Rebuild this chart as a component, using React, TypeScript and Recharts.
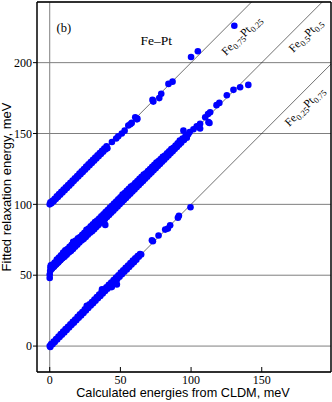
import { ScatterChart, Scatter, XAxis, YAxis, CartesianGrid, ReferenceLine, ReferenceDot } from 'recharts';

const xTicks = [0, 50, 100, 150];
const yTicks = [0, 50, 100, 150, 200];
const xDomain: [number, number] = [-9, 199];
const yDomain: [number, number] = [-18.3, 242.8];

// y = x + offset guide lines
const guideOffsets = [0, 50, 100];

// Fe0.25Pt0.75 (bottom band)
const fe25pt75 = [
  [0, 0], [0.4, -0.6], [1, 1.5], [2, 1.2], [2.8, 3.2], [3.6, 2.8], [4.5, 5], [5.3, 4.6], [6.2, 6.8], [7, 6.4],
  [7.8, 8.5], [8.6, 8], [9.5, 10.2], [10.3, 9.6], [11.2, 12], [12, 11.4], [12.9, 13.6], [13.7, 13.1], [14.6, 15.4],
  [15.4, 14.8], [16.3, 17.2], [17.1, 16.5], [18, 18.8], [18.8, 18.2], [19.7, 20.6], [20.5, 19.9], [21.4, 22.4],
  [22.2, 21.6], [23.1, 24], [23.9, 23.4], [24.8, 25.9], [25.6, 25.1], [26.2, 28.5], [26.5, 27], [27.3, 26.9],
  [28.2, 29.4], [29, 28.6], [29.9, 31.1], [30.7, 30.2], [31.6, 32.8], [32.4, 32], [33.3, 34.6], [34.1, 33.7],
  [35, 36.3], [35.8, 35.4], [36.7, 38.2], [37, 40], [37.5, 37.1], [38.4, 39.8], [39.2, 38.8], [40.1, 41.5],
  [40.9, 40.5], [41.8, 43.3], [42.6, 42.1], [43.9, 41.6], [43.5, 44.9], [44.3, 43.8], [45.2, 46.6], [46, 45.6],
  [46.9, 48.3], [47.5, 43.5], [47.7, 47.2], [48.6, 50], [49.4, 49], [50.3, 51.8], [51.1, 50.7], [52, 53.4],
  [52.8, 52.4], [53.7, 55.2], [54.5, 54], [55.4, 56.8], [56.2, 55.8], [57.1, 58.6], [57.9, 57.5], [58.8, 60.3],
  [59.6, 59.2], [60.5, 62], [61.3, 61], [62.2, 63.6], [63, 63], [63.9, 65], [64.7, 64.6],
  [72.3, 74.6], [73, 74], [77, 78], [81.7, 82.2], [83.6, 82.9], [85.2, 85.2], [90.7, 90.6], [91.4, 92], [99.6, 98],
];

// Fe0.5Pt0.5 (middle band)
const fe50pt50 = [
  [0, 48], [0, 50.5], [0.3, 53], [0.5, 55.5], [0.8, 57], [1.5, 54.5], [2, 57.5], [3, 56], [3.5, 59], [4.5, 57.5],
  [5, 61], [6, 59], [6.5, 62.5], [7.5, 60.5], [8, 64], [9, 62], [9.5, 66], [10.5, 63], [11, 67.5], [12, 64.5],
  [12.5, 68.5], [13.5, 66], [14, 70], [15, 67], [15.5, 71.5], [16.5, 68.5], [16.6, 73.5], [17, 73], [18, 70],
  [18.5, 74.5], [19.5, 71.5], [20, 76], [21, 73], [21.5, 77], [22.5, 74.5], [23, 78.5], [24, 75.5], [24.5, 80],
  [25.5, 77], [26, 82], [27, 78.5], [27.5, 83], [28.5, 80], [29, 84.5], [30, 81], [30.5, 86], [31.5, 82.5],
  [32, 87.5], [33, 84], [33.5, 88.5], [34.5, 85.5], [35, 90], [36, 87], [36.5, 91.5], [37.5, 88], [38, 93],
  [39, 89.5], [39.3, 85.5], [39.5, 94.5], [40.5, 91], [41, 96], [42, 92.5], [42.5, 97.5], [43.5, 94], [44, 99],
  [45, 95.5], [45.5, 100.5], [46.5, 97], [47, 102], [48, 98.5], [48.5, 103.5], [49.5, 100], [50, 105],
  [51, 101.5], [51.5, 107], [52.5, 103], [53, 108], [54, 104.5], [54.5, 109.5], [55.5, 106], [56, 111],
  [57, 107.5], [57.5, 112.5], [58.5, 109], [59, 113.5], [60, 110.5], [60.5, 115], [61.5, 112], [62, 116.5],
  [63, 113.5], [63.5, 118], [64.5, 115], [65, 119.5], [66, 116.5], [66.5, 121], [67.5, 118], [68, 122],
  [69, 119.5], [69.5, 123.5], [70.5, 121], [71, 125], [72, 122.5], [72.5, 126.5], [73.5, 124], [74, 128],
  [75, 125.5], [75.5, 129.5], [76.5, 127], [77, 130.5], [78, 128.5], [78.5, 132], [79.5, 130], [80, 133.5],
  [81, 131.5], [81.5, 134.5], [82.5, 133], [83, 136], [84, 134.5], [84.5, 137.5], [85.5, 136], [86, 139],
  [87, 137.5], [87.5, 140], [88.5, 139], [89, 141.5], [90, 140.5], [90.5, 143], [91.5, 142], [92, 145],
  [93, 143.5], [94, 146.5], [94.6, 152], [95, 145.5], [96, 148], [97, 147], [98, 149.5], [99, 151],
  [101.7, 153], [104, 155], [106.4, 156.8], [106.4, 153.5], [110, 161.5], [112, 163.8], [112.3, 158],
  [113, 157.4], [113.5, 165], [118, 170], [120, 171.6], [125.3, 177], [130, 180.8], [134.7, 182.6], [140.5, 184.3],
];

// Fe0.75Pt0.25 (top band)
const fe75pt25 = [
  [0, 100], [0.5, 101.5], [1.2, 100.8], [2, 102.5], [2.8, 102.2], [3.5, 104], [4.3, 103.8], [5, 105.6],
  [5.8, 105.2], [6.6, 107.2], [7.4, 106.8], [8.2, 108.8], [9, 108.4], [9.8, 110.4], [10.6, 110], [11.4, 112],
  [12.2, 111.6], [13, 113.6], [13.8, 113.2], [14.6, 115.2], [15.4, 114.8], [16.2, 116.8], [17, 116.4],
  [17.8, 118.4], [18.6, 118], [19.4, 120], [20.2, 119.6], [21, 121.8], [21.8, 121.2], [22.6, 123.4],
  [23.4, 122.8], [24.2, 125], [25, 124.4], [25.8, 126.6], [26.6, 126], [27.4, 128.2], [28.2, 127.6],
  [29, 129.8], [29.8, 129.2], [30.6, 131.4], [31.4, 130.8], [32.2, 133], [33, 132.4], [33.8, 134.6], [34.6, 134],
  [35.4, 136.2], [36.2, 135.6], [37, 137.8], [37.8, 137.2], [38.6, 139.4], [39.4, 138.8], [40.2, 141],
  [40.8, 139.6], [44, 144], [47, 146.5], [48.5, 148], [51, 150], [53, 152], [55.6, 155.7], [57, 156.5],
  [58, 157.5], [60.5, 161.5], [61.7, 160], [62, 160.5], [72.7, 173.7], [73.3, 172.5], [77.5, 175], [78.9, 178],
  [84, 185], [86.9, 186.6], [100, 204], [104.8, 208], [130.6, 226],
];

const toPoints = (arr: number[][]) => arr.map(([x, y]) => ({ x, y }));

const alloyLabels = [
  { a: '0.75', b: '0.25', x: 135.5, y: 219.3 },
  { a: '0.5', b: '0.5', x: 180.9, y: 219.3 },
  { a: '0.25', b: '0.75', x: 180.2, y: 169.2 },
];

const serif = '"Liberation Serif", "Times New Roman", serif';
const sans = '"Liberation Sans", Arial, sans-serif';
const blue = '#0000ff';

const Dot = (p: any) => <circle cx={p.cx} cy={p.cy} r={3.3} fill={blue} />;

const AlloyText = ({ a, b }: { a: string; b: string }) => (p: any) => (
  <text
    x={p.cx}
    y={p.cy}
    transform={`rotate(-45 ${p.cx} ${p.cy})`}
    textAnchor="middle"
    dy="0.35em"
    fontFamily={serif}
    fontSize={11.5}
    fill="#000"
  >
    Fe<tspan fontSize={8.5} dy={3}>{a}</tspan>
    <tspan dy={-3}>Pt</tspan>
    <tspan fontSize={8.5} dy={3}>{b}</tspan>
  </text>
);

const PlainText = (txt: string, size: number) => (p: any) => (
  <text x={p.cx} y={p.cy} textAnchor="middle" dy="0.35em" fontFamily={serif} fontSize={size} fill="#000">
    {txt}
  </text>
);

export default function App() {
  return (
    <div style={{ position: 'absolute', left: 0, top: 0, background: '#fff' }}>
      <ScatterChart width={332} height={402} margin={{ top: 2, right: 1, bottom: 0, left: 0 }}>
        <CartesianGrid horizontal vertical={false} stroke="#7f7f7f" strokeWidth={1} />
        <XAxis
          type="number"
          dataKey="x"
          domain={xDomain}
          allowDataOverflow
          ticks={xTicks}
          height={30}
          tickSize={-5}
          tickMargin={8}
          axisLine={{ stroke: '#000', strokeWidth: 1.5 }}
          tickLine={{ stroke: '#000' }}
          tick={{ fontFamily: serif, fontSize: 12, fill: '#000' }}
          label={{
            content: () => (
              <text x={183} y={397} textAnchor="middle" fontFamily={sans} fontSize={12.7} fill="#000">
                Calculated energies from CLDM, meV
              </text>
            ),
          }}
        />
        <YAxis
          type="number"
          dataKey="y"
          domain={yDomain}
          allowDataOverflow
          ticks={yTicks}
          width={37}
          tickSize={4}
          tickMargin={1}
          axisLine={{ stroke: '#000', strokeWidth: 1.5 }}
          tickLine={{ stroke: '#000' }}
          tick={{ fontFamily: serif, fontSize: 12, fill: '#000' }}
          label={{
            content: () => (
              <text
                x={11.3}
                y={187}
                transform="rotate(-90 11.3 187)"
                textAnchor="middle"
                fontFamily={sans}
                fontSize={13}
                fill="#000"
              >
                Fitted relaxation energy, meV
              </text>
            ),
          }}
        />
        <ReferenceLine x={0} stroke="#7f7f7f" strokeWidth={1} />
        <Scatter data={toPoints(fe25pt75)} shape={Dot} isAnimationActive={false} />
        <Scatter data={toPoints(fe50pt50)} shape={Dot} isAnimationActive={false} />
        <Scatter data={toPoints(fe75pt25)} shape={Dot} isAnimationActive={false} />
        {guideOffsets.map((off) => {
          const x1 = Math.min(xDomain[1], yDomain[1] - off);
          return (
            <ReferenceLine
              key={off}
              segment={[
                { x: 0, y: off },
                { x: x1, y: x1 + off },
              ]}
              stroke="#111"
              strokeWidth={0.6}
              ifOverflow="visible"
            />
          );
        })}
        <ReferenceLine y={yDomain[1]} stroke="#000" strokeWidth={1.5} ifOverflow="visible" />
        <ReferenceLine x={xDomain[1]} stroke="#000" strokeWidth={1.5} ifOverflow="visible" />
        {alloyLabels.map((l) => (
          <ReferenceDot key={l.a} x={l.x} y={l.y} r={0} ifOverflow="visible" shape={AlloyText(l)} />
        ))}
        <ReferenceDot x={10} y={225} r={0} ifOverflow="visible" shape={PlainText('(b)', 12.5)} />
        <ReferenceDot x={75.3} y={215.7} r={0} ifOverflow="visible" shape={PlainText('Fe–Pt', 13.5)} />
      </ScatterChart>
    </div>
  );
}
